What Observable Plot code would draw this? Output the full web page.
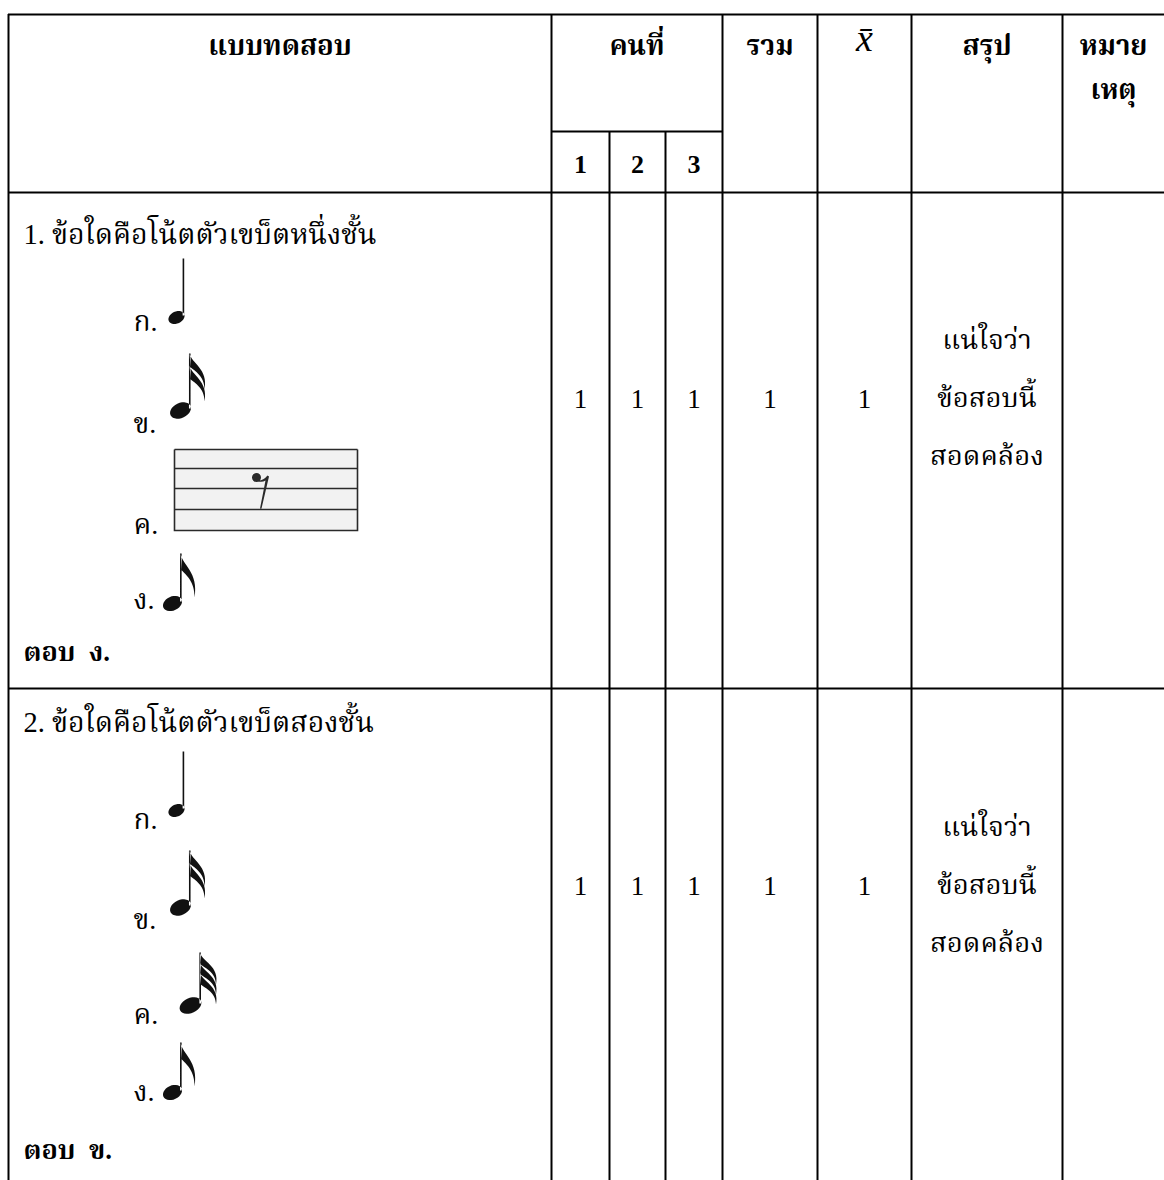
<!DOCTYPE html>
<html><head><meta charset="utf-8">
<script src="https://cdn.jsdelivr.net/npm/d3@7"></script>
<script src="https://cdn.jsdelivr.net/npm/@observablehq/plot@0.6"></script>
<style>body{margin:0;background:#fff}</style>
</head><body><div id="chart"></div>
<script>
// ---------- data ----------
const testHeader = "แบบทดสอบ";
const raterHeader = "คนที่";
const totalHeader = "รวม";
const meanHeader = "x̄";
const conclusionHeader = "สรุป";
const remarkHeader = "หมาย\nเหตุ";
const raterNumbers = ["1", "2", "3"];
const questions = ["1. ข้อใดคือโน้ตตัวเขบ็ตหนึ่งชั้น", "2. ข้อใดคือโน้ตตัวเขบ็ตสองชั้น"];
const optionLabels = ["ก.", "ข.", "ค.", "ง."];
const optionGlyphs = [["quarter", "sixteenth", "staffRest", "eighth"], ["quarter", "sixteenth", "thirtySecond", "eighth"]];
const answers = ["ตอบ  ง.", "ตอบ  ข."];
const rater1 = [1, 1];
const rater2 = [1, 1];
const rater3 = [1, 1];
const totals = [1, 1];
const means = [1, 1];
const conclusions = ["แน่ใจว่า\nข้อสอบนี้\nสอดคล้อง", "แน่ใจว่า\nข้อสอบนี้\nสอดคล้อง"];

// ---------- layout ----------
const W = 1164, H = 1180;
const colEdges = [8, 551, 609, 665, 722, 817, 911, 1062, 1164];
const tableTop = 14, subHeaderY = 131, headerBottom = 192, rowTops = [192, 688];
const qBase = [243, 731];
const optBase = [[330, 432, 533, 608], [828, 928, 1023, 1100]];
const ansBase = [660, 1158];
const valueBase = [407, 894];
const conclBase = [464, 951];
const glyphPos = [[[176, 317], [180, 410], [265, 490], [172, 603]], [[176, 810], [180, 907], [190, 1005], [172, 1092]]];
const optX = 133, leftX = 23;

const thai = "'Liberation Serif','Noto Serif Thai','Noto Sans Thai',serif";
const serif = "'Liberation Serif','Times New Roman',serif";

// ---------- glyph symbols ----------
function noteSymbol({rx, ry, angle, stem, flags = 0, flagLen = 40, flagW = 15, gap = 10}) {
  return {
    draw(ctx) {
      const a = angle * Math.PI / 180, n = 28;
      for (let i = 0; i <= n; i++) {
        const t = i / n * 2 * Math.PI;
        const ex = rx * Math.cos(t), ey = ry * Math.sin(t);
        const px = ex * Math.cos(a) - ey * Math.sin(a), py = ex * Math.sin(a) + ey * Math.cos(a);
        i === 0 ? ctx.moveTo(px, py) : ctx.lineTo(px, py);
      }
      ctx.closePath();
      const right = Math.sqrt(rx * rx * Math.cos(a) ** 2 + ry * ry * Math.sin(a) ** 2);
      const sx = right - 1.2;
      ctx.moveTo(sx - 0.8, -2); ctx.lineTo(sx + 0.8, -2); ctx.lineTo(sx + 0.8, -stem); ctx.lineTo(sx - 0.8, -stem); ctx.closePath();
      for (let i = 0; i < flags; i++) {
        const top = -stem + i * gap, x0 = sx + 0.8;
        ctx.moveTo(x0 - 1, top);
        ctx.bezierCurveTo(x0 + 1, top + flagLen * 0.28, x0 + flagW + 2, top + flagLen * 0.42, x0 + flagW - 2, top + flagLen);
        ctx.bezierCurveTo(x0 + flagW - 2, top + flagLen * 0.62, x0 + 4, top + flagLen * 0.48, x0, top + flagLen * 0.38);
        ctx.closePath();
      }
    }
  };
}
const symbols = {
  quarter: noteSymbol({rx: 8.5, ry: 6, angle: -25, stem: 59}),
  sixteenth: noteSymbol({rx: 11, ry: 7.5, angle: -25, stem: 57, flags: 2, flagLen: 36, flagW: 16, gap: 12}),
  thirtySecond: noteSymbol({rx: 11.5, ry: 7.5, angle: -25, stem: 53, flags: 3, flagLen: 32, flagW: 17, gap: 10}),
  eighth: noteSymbol({rx: 10, ry: 7, angle: -25, stem: 50, flags: 1, flagLen: 44, flagW: 15})
};
// staff (box + lines) centred at glyph anchor
const staffBg = {draw(ctx) { ctx.moveTo(-91, -41); ctx.lineTo(92, -41); ctx.lineTo(92, 40); ctx.lineTo(-91, 40); ctx.closePath(); }};
const staffLines = {draw(ctx) {
  for (const y of [-41, -22, -2, 19, 40]) { ctx.moveTo(-91, y - 0.8); ctx.lineTo(92, y - 0.8); ctx.lineTo(92, y + 0.8); ctx.lineTo(-91, y + 0.8); ctx.closePath(); }
  for (const x of [-91, 92]) { ctx.moveTo(x - 0.8, -41); ctx.lineTo(x + 0.8, -41); ctx.lineTo(x + 0.8, 40.8); ctx.lineTo(x - 0.8, 40.8); ctx.closePath(); }
  // eighth rest
  ctx.moveTo(-5, -13); ctx.arc(-9, -13, 4.5, 0, 2 * Math.PI); ctx.closePath();
  ctx.moveTo(-7, -10); ctx.quadraticCurveTo(-2, -10, 2, -15); ctx.lineTo(3.5, -14); ctx.lineTo(-4, 18); ctx.lineTo(-5.5, 18); ctx.lineTo(0, -10); ctx.quadraticCurveTo(-3, -8, -7, -9); ctx.closePath();
}};

// ---------- mark data ----------
const cx = i => (colEdges[i] + colEdges[i + 1]) / 2;
const hLines = [
  {y: tableTop, x1: colEdges[0], x2: W},
  {y: subHeaderY, x1: colEdges[1], x2: colEdges[4]},
  {y: headerBottom, x1: colEdges[0], x2: W},
  {y: rowTops[1], x1: colEdges[0], x2: W}
];
const vLines = colEdges.slice(0, 8).map((x, i) => ({x, y1: (i === 2 || i === 3) ? subHeaderY : tableTop, y2: H}));

const headers = [
  {text: testHeader, x: cx(0), y: 54},
  {text: raterHeader, x: (colEdges[1] + colEdges[4]) / 2, y: 54},
  {text: totalHeader, x: cx(4), y: 54},
  {text: conclusionHeader, x: cx(6), y: 54},
  {text: remarkHeader, x: cx(7), y: 98}
];
const subHeaders = raterNumbers.map((t, i) => ({text: t, x: cx(i + 1), y: 172}));
const valueCells = [];
questions.forEach((q, r) => {
  [rater1, rater2, rater3, totals, means].forEach((arr, c) => valueCells.push({text: String(arr[r]), x: cx(c + 1), y: valueBase[r]}));
});
const questionText = questions.map((q, r) => ({text: q, x: leftX, y: qBase[r]}));
const answerText = answers.map((a, r) => ({text: a, x: leftX, y: ansBase[r]}));
const optionText = questions.flatMap((q, r) => optionLabels.map((l, k) => ({text: l, x: optX, y: optBase[r][k]})));
const conclText = conclusions.map((c, r) => ({text: c, x: cx(6), y: conclBase[r]}));
const glyphs = questions.flatMap((q, r) => optionGlyphs[r].map((g, k) => ({type: g, x: glyphPos[r][k][0], y: glyphPos[r][k][1]})));

const chart = Plot.plot({
  width: W, height: H, margin: 0,
  x: {type: "identity", axis: null},
  y: {type: "identity", axis: null},
  marks: [
    Plot.dot(glyphs.filter(d => d.type === "staffRest"), {x: "x", y: "y", symbol: staffBg, fill: "#f2f2f2", stroke: "none"}),
    Plot.dot(glyphs.filter(d => d.type === "staffRest"), {x: "x", y: "y", symbol: staffLines, fill: "#2a2a2a", stroke: "none"}),
    ...["quarter", "sixteenth", "thirtySecond", "eighth"].map(t =>
      Plot.dot(glyphs.filter(d => d.type === t), {x: "x", y: "y", symbol: symbols[t], fill: "#111", stroke: "none"})),
    Plot.ruleY(hLines, {y: "y", x1: "x1", x2: "x2", stroke: "#000", strokeWidth: 2}),
    Plot.ruleX(vLines, {x: "x", y1: "y1", y2: "y2", stroke: "#000", strokeWidth: 2}),
    Plot.text(headers, {x: "x", y: "y", text: "text", fontFamily: thai, fontSize: 27.5, fontWeight: "bold", lineAnchor: "bottom", lineHeight: 1.6, fill: "#000"}),
    Plot.text([{text: meanHeader, x: cx(5), y: 50}], {x: "x", y: "y", text: "text", fontFamily: serif, fontStyle: "italic", fontSize: 38, lineAnchor: "bottom", fill: "#000"}),
    Plot.text(subHeaders, {x: "x", y: "y", text: "text", fontFamily: serif, fontSize: 26, fontWeight: "bold", lineAnchor: "bottom", fill: "#000"}),
    Plot.text(valueCells, {x: "x", y: "y", text: "text", fontFamily: serif, fontSize: 27, lineAnchor: "bottom", fill: "#000"}),
    Plot.text(questionText, {x: "x", y: "y", text: "text", fontFamily: thai, fontSize: 28.5, textAnchor: "start", lineAnchor: "bottom", fill: "#000"}),
    Plot.text(optionText, {x: "x", y: "y", text: "text", fontFamily: thai, fontSize: 28, textAnchor: "start", lineAnchor: "bottom", fill: "#000"}),
    Plot.text(answerText, {x: "x", y: "y", text: "text", fontFamily: thai, fontSize: 27, fontWeight: "bold", textAnchor: "start", lineAnchor: "bottom", fill: "#000"}),
    Plot.text(conclText, {x: "x", y: "y", text: "text", fontFamily: thai, fontSize: 27.5, lineAnchor: "bottom", lineHeight: 2.1, fill: "#000"})
  ]
});
document.getElementById("chart").appendChild(chart);
</script></body></html>
